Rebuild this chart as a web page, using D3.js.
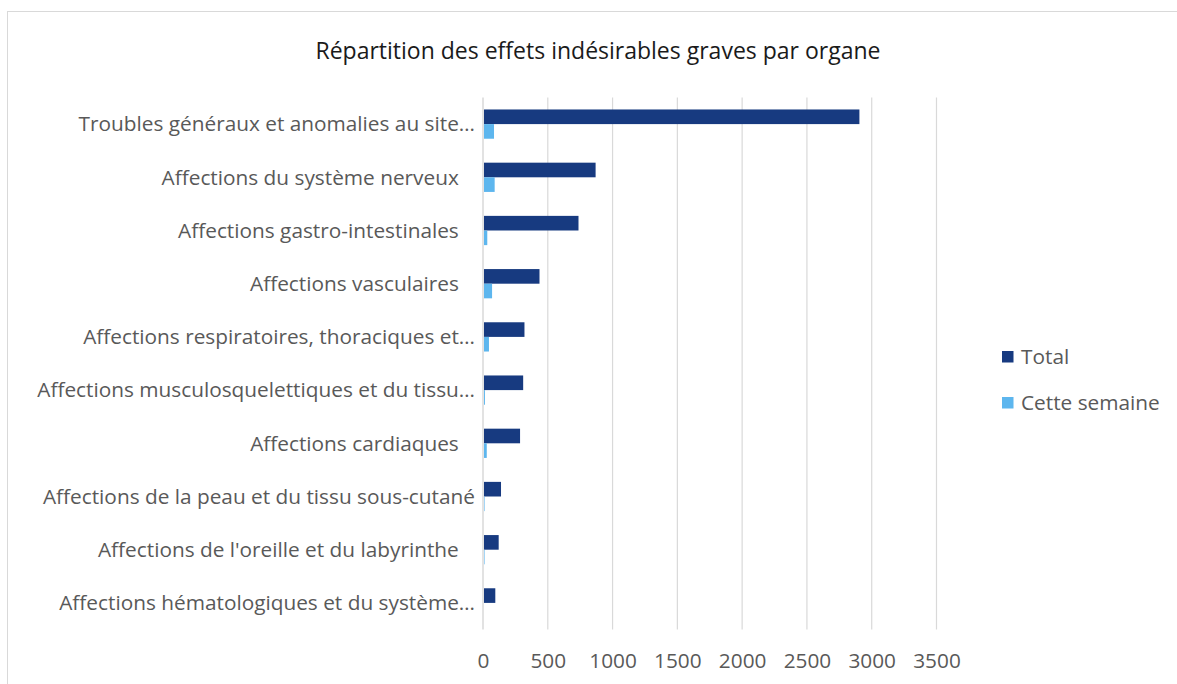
<!DOCTYPE html>
<html>
<head>
<meta charset="utf-8">
<script src="https://cdn.jsdelivr.net/npm/d3@7"></script>
<style>
  body { margin: 0; background: #fff; }
  svg text { font-family: "Open Sans", "Noto Sans", sans-serif; }
</style>
</head>
<body>
<div id="chart"></div>
<script>
const categories = [
  "Troubles généraux et anomalies au site…",
  "Affections du système nerveux   ",
  "Affections gastro-intestinales   ",
  "Affections vasculaires   ",
  "Affections respiratoires, thoraciques et…",
  "Affections musculosquelettiques et du tissu…",
  "Affections cardiaques   ",
  "Affections de la peau et du tissu sous-cutané",
  "Affections de l'oreille et du labyrinthe   ",
  "Affections hématologiques et du système…"
];
const totalValues = [2905, 869, 737, 436, 320, 310, 286, 139, 121, 95];
const weekValues = [85, 90, 33, 70, 46, 15, 29, 12, 12, 0];
const seriesNames = ["Total", "Cette semaine"];
const xTicks = [0, 500, 1000, 1500, 2000, 2500, 3000, 3500];

const colors = { "Total": "#173a80", "Cette semaine": "#5db6ee" };

const width = 1177, height = 684;
const plot = { left: 483, right: 936.5, top: 97.5, bottom: 629.5 };

const svg = d3.select("#chart").append("svg")
  .attr("width", width)
  .attr("height", height);

/* chart frame */
svg.append("rect")
  .attr("x", 7.5).attr("y", 11.5)
  .attr("width", width + 20).attr("height", height + 20)
  .attr("fill", "none")
  .attr("stroke", "#d9d9d9");

svg.append("text")
  .attr("x", 598).attr("y", 59)
  .attr("text-anchor", "middle")
  .style("font-size", "23px")
  .attr("fill", "#1a1a1a")
  .text("Répartition des effets indésirables graves par organe");

const x = d3.scaleLinear().domain([0, 3500]).range([plot.left, plot.right]);

const y = d3.scaleBand()
  .domain(categories)
  .range([plot.top, plot.bottom])
  .paddingInner(0.45)
  .paddingOuter(0.225);

const ySeries = d3.scaleBand()
  .domain(seriesNames)
  .range([0, y.bandwidth()]);

/* gridlines */
svg.append("g")
  .selectAll("line")
  .data(xTicks)
  .join("line")
  .attr("x1", (d) => x(d)).attr("x2", (d) => x(d))
  .attr("y1", plot.top).attr("y2", plot.bottom)
  .attr("stroke", "#d9d9d9")
  .attr("stroke-width", (d) => (d === 0 ? 1.5 : 1.2));

/* x axis tick labels */
svg.append("g")
  .attr("transform", `translate(0, ${plot.bottom + 23.5})`)
  .call(d3.axisBottom(x).tickValues(xTicks).tickFormat(d3.format("d")).tickSize(0).tickPadding(0))
  .call((g) => g.select(".domain").remove())
  .selectAll("text")
  .style("font-size", "20.8px")
  .style("font-family", "'Open Sans', sans-serif")
  .attr("fill", "#595959");

/* category labels */
svg.append("g")
  .selectAll("text")
  .data(categories)
  .join("text")
  .attr("x", plot.left - 8)
  .attr("y", (d) => y(d) + y.bandwidth() / 2)
  .attr("dy", "0.35em")
  .attr("text-anchor", "end")
  .style("white-space", "pre")
  .style("font-size", "20.8px")
  .attr("fill", "#595959")
  .text((d) => d);

const rows = categories.map((c, i) => ({
  cat: c,
  values: [
    { series: "Total", value: totalValues[i] },
    { series: "Cette semaine", value: weekValues[i] }
  ]
}));

const groups = svg.append("g")
  .selectAll("g")
  .data(rows)
  .join("g")
  .attr("transform", (d) => `translate(0, ${y(d.cat)})`);

groups.selectAll("rect")
  .data((d) => d.values)
  .join("rect")
  .attr("x", x(0) + 1)
  .attr("y", (d) => ySeries(d.series))
  .attr("width", (d) => Math.max(0, x(d.value) - x(0) - 1))
  .attr("height", ySeries.bandwidth())
  .attr("fill", (d) => colors[d.series]);

/* legend */
const legend = svg.append("g")
  .attr("transform", "translate(1002, 351)")
  .selectAll("g")
  .data(seriesNames)
  .join("g")
  .attr("transform", (d, i) => `translate(0, ${i * 46})`);

legend.append("rect")
  .attr("width", 11.5).attr("height", 11.5)
  .attr("fill", (d) => colors[d]);

legend.append("text")
  .attr("x", 19).attr("y", 6)
  .attr("dy", "0.35em")
  .style("font-size", "20.8px")
  .attr("fill", "#595959")
  .text((d) => d);
</script>
</body>
</html>
